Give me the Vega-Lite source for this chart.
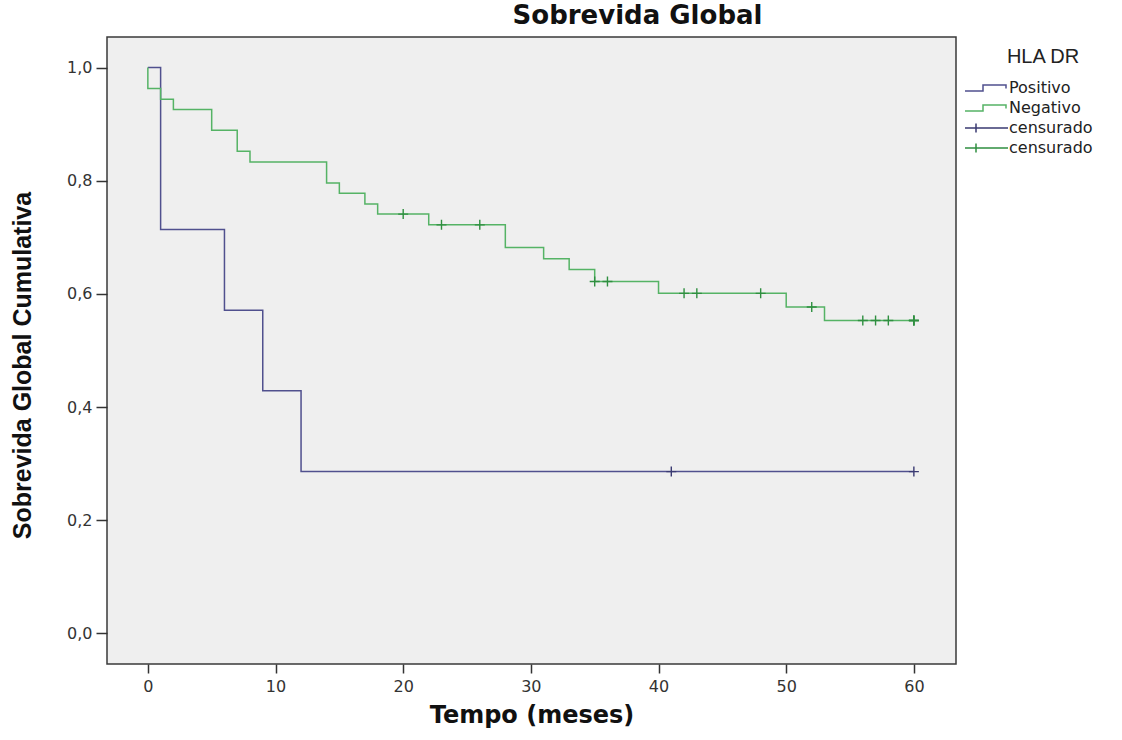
{
  "$schema": "https://vega.github.io/schema/vega-lite/v6.json",
  "autosize": {"type": "none"},
  "padding": {"left": 107, "top": 37, "right": 166, "bottom": 76},
  "width": 849,
  "height": 627,
  "background": "white",
  "config": {
    "view": {"fill": "#efefef", "stroke": "#3a3a3a", "strokeWidth": 1.5},
    "font": "Liberation Sans"
  },
  "title": {
    "text": "Sobrevida Global",
    "font": "DejaVu Sans",
    "fontSize": 26,
    "fontWeight": "bold",
    "color": "#111111",
    "anchor": "middle",
    "frame": "group",
    "dx": 106,
    "offset": 8
  },
  "datasets": {
    "curva": [
      {"k": "Positivo", "i": 0, "t": 0, "v": 1.0},
      {"k": "Positivo", "i": 1, "t": 1, "v": 0.714},
      {"k": "Positivo", "i": 2, "t": 6, "v": 0.571},
      {"k": "Positivo", "i": 3, "t": 9, "v": 0.429},
      {"k": "Positivo", "i": 4, "t": 12, "v": 0.286},
      {"k": "Positivo", "i": 5, "t": 60, "v": 0.286},
      {"k": "Negativo", "i": 0, "t": 0, "v": 1.0},
      {"k": "Negativo", "i": 1, "t": 0, "v": 0.963},
      {"k": "Negativo", "i": 2, "t": 1, "v": 0.944},
      {"k": "Negativo", "i": 3, "t": 2, "v": 0.926},
      {"k": "Negativo", "i": 4, "t": 5, "v": 0.889},
      {"k": "Negativo", "i": 5, "t": 7, "v": 0.852},
      {"k": "Negativo", "i": 6, "t": 8, "v": 0.833},
      {"k": "Negativo", "i": 7, "t": 14, "v": 0.796},
      {"k": "Negativo", "i": 8, "t": 15, "v": 0.778},
      {"k": "Negativo", "i": 9, "t": 17, "v": 0.759},
      {"k": "Negativo", "i": 10, "t": 18, "v": 0.741},
      {"k": "Negativo", "i": 11, "t": 22, "v": 0.722},
      {"k": "Negativo", "i": 12, "t": 28, "v": 0.682},
      {"k": "Negativo", "i": 13, "t": 31, "v": 0.662},
      {"k": "Negativo", "i": 14, "t": 33, "v": 0.643},
      {"k": "Negativo", "i": 15, "t": 35, "v": 0.622},
      {"k": "Negativo", "i": 16, "t": 40, "v": 0.601},
      {"k": "Negativo", "i": 17, "t": 50, "v": 0.577},
      {"k": "Negativo", "i": 18, "t": 53, "v": 0.553},
      {"k": "Negativo", "i": 19, "t": 60, "v": 0.553}
    ],
    "censura": [
      {"k": "cP", "t": 41, "v": 0.286},
      {"k": "cP", "t": 60, "v": 0.286},
      {"k": "cN", "t": 20, "v": 0.741},
      {"k": "cN", "t": 23, "v": 0.722},
      {"k": "cN", "t": 26, "v": 0.722},
      {"k": "cN", "t": 35, "v": 0.622},
      {"k": "cN", "t": 36, "v": 0.622},
      {"k": "cN", "t": 42, "v": 0.601},
      {"k": "cN", "t": 43, "v": 0.601},
      {"k": "cN", "t": 48, "v": 0.601},
      {"k": "cN", "t": 52, "v": 0.577},
      {"k": "cN", "t": 56, "v": 0.553},
      {"k": "cN", "t": 57, "v": 0.553},
      {"k": "cN", "t": 58, "v": 0.553},
      {"k": "cN", "t": 60, "v": 0.553},
      {"k": "cN", "t": 60, "v": 0.553},
      {"k": "cN", "t": 60, "v": 0.553}
    ],
    "legenda": [
      {"k": "Positivo"},
      {"k": "Negativo"},
      {"k": "cP"},
      {"k": "cN"}
    ]
  },
  "layer": [
    {
      "data": {"name": "curva"},
      "mark": {"type": "line", "interpolate": "step-after", "strokeWidth": 1.5},
      "encoding": {
        "x": {
          "field": "t", "type": "quantitative",
          "scale": {"domain": [-3.2, 63.3], "nice": false, "zero": false},
          "axis": {
            "values": [0, 10, 20, 30, 40, 50, 60],
            "title": "Tempo (meses)",
            "titleFont": "DejaVu Sans", "titleFontSize": 24, "titleFontWeight": "bold", "titleColor": "#111111",
            "titlePadding": 9,
            "labelFont": "DejaVu Sans", "labelFontSize": 16, "labelColor": "#333333", "labelPadding": 5,
            "tickSize": 9, "tickColor": "#333333", "tickWidth": 1.5,
            "domain": false, "grid": false
          }
        },
        "y": {
          "field": "v", "type": "quantitative",
          "scale": {"domain": [-0.054, 1.054], "nice": false, "zero": false},
          "axis": {
            "values": [0, 0.2, 0.4, 0.6, 0.8, 1.0],
            "labelExpr": "replace(format(datum.value, '.1f'), '.', ',')",
            "title": "Sobrevida Global Cumulativa",
            "titleFont": "Liberation Sans", "titleFontSize": 25, "titleFontWeight": "bold", "titleColor": "#111111",
            "titlePadding": 31,
            "titleY": 328,
            "labelFont": "DejaVu Sans", "labelFontSize": 16, "labelColor": "#333333", "labelPadding": 4,
            "tickSize": 11, "tickColor": "#333333", "tickWidth": 1.5,
            "domain": false, "grid": false
          }
        },
        "color": {
          "field": "k", "type": "nominal",
          "scale": {"domain": ["Positivo", "Negativo", "cP", "cN"], "range": ["#50508e", "#55b365", "#3a3a72", "#2f8f40"]}
        },
        "order": {"field": "i", "type": "quantitative"}
      }
    },
    {
      "data": {"name": "censura"},
      "mark": {"type": "point", "shape": "M-1,0H1M0,-1V1", "size": 100, "filled": false, "strokeWidth": 1.4, "opacity": 1},
      "encoding": {
        "x": {"field": "t", "type": "quantitative"},
        "y": {"field": "v", "type": "quantitative"},
        "color": {
          "field": "k", "type": "nominal",
          "scale": {"domain": ["Positivo", "Negativo", "cP", "cN"], "range": ["#50508e", "#55b365", "#3a3a72", "#2f8f40"]}
        }
      }
    },
    {
      "data": {"name": "legenda"},
      "mark": {"type": "point", "filled": false, "opacity": 1},
      "encoding": {
        "x": {"field": "t", "type": "quantitative"},
        "y": {"field": "v", "type": "quantitative"},
        "color": {
          "field": "k", "type": "nominal",
          "scale": {"domain": ["Positivo", "Negativo", "cP", "cN"], "range": ["#50508e", "#55b365", "#3a3a72", "#2f8f40"]},
          "legend": {
            "title": "HLA DR",
            "orient": "none",
            "legendX": 887,
            "legendY": 10,
            "padding": 0,
            "titleFont": "Liberation Sans", "titleFontSize": 20, "titleFontWeight": "normal", "titleColor": "#222222",
            "titleAnchor": "middle", "titlePadding": 13,
            "labelFont": "DejaVu Sans", "labelFontSize": 16, "labelColor": "#222222", "labelOffset": -1,
            "labelExpr": "datum.label == 'cP' || datum.label == 'cN' ? 'censurado' : datum.label",
            "symbolSize": 100, "symbolStrokeWidth": 1.5, "symbolOpacity": 1, "symbolFillColor": "transparent",
            "rowPadding": 4
          }
        },
        "shape": {
          "field": "k", "type": "nominal",
          "scale": {
            "domain": ["Positivo", "Negativo", "cP", "cN"],
            "range": ["M-7.4,0.6H-3.8V-0.6H0.8V0.1", "M-7.4,0.6H-3.8V-0.6H0.8V0.1", "M-7.4,0H1.2M-5.2,-0.9V0.9", "M-7.4,0H1.2M-5.2,-0.9V0.9"]
          }
        }
      }
    }
  ]
}
